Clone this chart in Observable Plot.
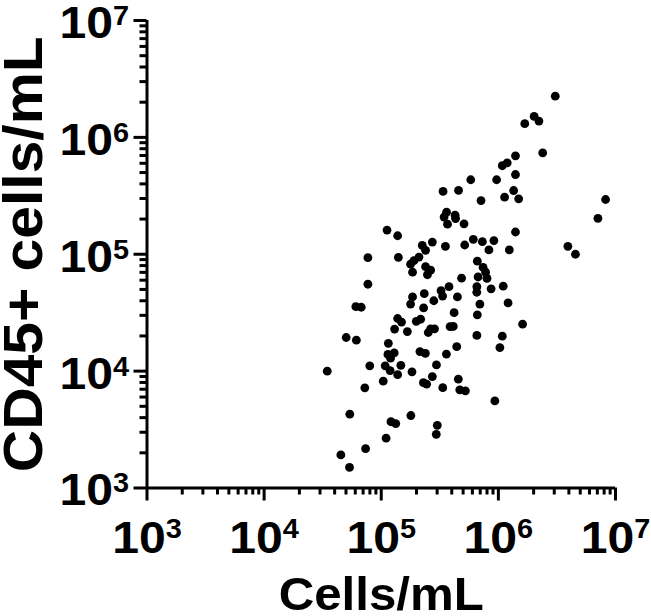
<!DOCTYPE html>
<html>
<head>
<meta charset="utf-8">
<script src="https://cdn.jsdelivr.net/npm/d3@7"></script>
<script src="https://cdn.jsdelivr.net/npm/@observablehq/plot@0.6"></script>
<style>
  html, body { margin: 0; padding: 0; background: white; }
</style>
</head>
<body>
<div id="chart"></div>
<script>
const xTitle = "Cells/mL";
const yTitle = "CD45+ cells/mL";
const majorTicks = [1e3, 1e4, 1e5, 1e6, 1e7];
const minorTicks = [2,3,4,5,6,7,8,9].flatMap(m => [1e3, 1e4, 1e5, 1e6].map(p => m * p));

const cells = [
  3.06e6, 2.02e6, 2.22e6, 1.68e6, 2.39e6, 1.40e6, 1.19e6, 1.08e6, 1.40e6, 5.81e5,
  9.66e5, 3.37e5, 4.57e5, 1.35e6, 1.13e6, 1.49e6, 7.11e5, 8.23e6, 7.08e6, 3.61e5,
  3.44e5, 4.27e5, 4.31e5, 3.68e5, 5.09e5, 1.12e5, 1.38e5, 1.40e6, 2.24e5, 2.73e5,
  2.39e5, 3.53e5, 5.16e5, 6.11e5, 7.30e5, 9.16e5, 8.30e5, 1.24e6, 3.92e6, 4.55e6,
  7.69e4, 1.40e5, 6.61e5, 2.10e5, 1.90e5, 1.78e5, 2.39e5, 2.64e5, 1.85e5, 2.48e5,
  7.40e5, 7.78e5, 8.00e5, 6.71e5, 4.85e5, 7.69e4, 6.07e4, 6.75e4, 5.02e4, 6.13e4,
  3.46e4, 7.98e4, 7.24e4, 5.39e4, 4.52e4, 5.36e4, 7.35e4, 1.10e5, 1.21e5, 1.33e5,
  1.79e5, 3.01e5, 2.95e5, 9.33e5, 1.04e5, 1.08e5, 1.19e5, 1.38e5, 1.47e5, 1.15e5,
  1.14e5, 1.29e5, 1.20e5, 1.83e5, 2.29e5, 2.44e5, 2.73e5, 2.96e5, 3.35e5, 2.14e5,
  2.38e5, 3.60e5, 4.41e5, 4.55e5, 4.68e5, 5.23e5, 1.30e5, 1.67e5, 1.38e5, 1.49e5,
  1.99e5, 2.17e5, 2.52e5, 2.64e5, 2.85e5, 3.87e5, 4.12e5, 4.19e5, 2.30e5, 1.78e5,
  1.85e5, 2.33e5, 2.81e5, 3.24e5, 3.34e5, 3.79e5, 4.47e5, 6.55e5, 6.54e5, 8.67e5,
  1.10e6, 6.95e5, 1.21e6, 6.61e5, 6.55e5, 1.08e6, 1.03e6, 1.61e6
];

const cd45 = [
  2.25e6, 1.51e6, 1.38e6, 1.31e6, 7.38e5, 6.95e5, 6.06e5, 5.72e5, 4.81e5, 4.34e5,
  4.34e5, 3.45e5, 3.52e5, 3.51e5, 3.08e5, 2.98e5, 2.88e5, 2.94e5, 2.03e5, 2.29e5,
  2.08e5, 2.16e5, 2.02e5, 1.81e5, 1.82e5, 1.61e5, 1.44e5, 1.55e5, 1.19e5, 1.27e5,
  1.08e5, 1.17e5, 1.20e5, 1.34e5, 1.28e5, 1.31e5, 1.09e5, 1.09e5, 1.17e5, 1.00e5,
  9.35e4, 9.40e4, 8.73e4, 9.45e4, 8.81e4, 8.22e4, 7.83e4, 7.31e4, 7.03e4, 6.68e4,
  7.72e4, 7.03e4, 6.21e4, 6.39e4, 6.24e4, 5.54e4, 3.56e4, 3.52e4, 1.94e4, 1.84e4,
  1.00e4, 1.11e4, 7.19e3, 4.28e3, 1.92e3, 1.50e3, 2.17e3, 2.67e3, 3.69e3, 3.56e3,
  4.17e3, 3.44e3, 2.88e3, 5.56e3, 8.21e3, 1.11e4, 1.01e4, 9.33e3, 1.12e4, 1.73e4,
  1.39e4, 1.43e4, 1.29e4, 9.86e3, 7.97e3, 7.74e3, 8.99e3, 1.13e4, 7.22e3, 1.47e4,
  1.42e4, 1.40e4, 1.62e4, 8.54e3, 6.92e3, 6.78e3, 2.29e4, 2.18e4, 2.82e4, 2.63e4,
  2.67e4, 2.78e4, 2.14e4, 2.30e4, 2.30e4, 2.40e4, 2.41e4, 3.16e4, 3.47e4, 3.75e4,
  4.31e4, 4.60e4, 4.00e4, 4.88e4, 4.39e4, 5.28e4, 4.31e4, 5.28e4, 4.73e4, 5.06e4,
  5.33e4, 3.75e4, 3.83e4, 3.03e4, 2.02e4, 1.99e4, 1.59e4, 2.52e4
];

const idx = d3.range(Math.min(cells.length, cd45.length));
const fmt = d => "10^" + Math.round(Math.log10(d));
const FONT = "'Liberation Sans', Arial, Helvetica, sans-serif";

const chart = Plot.plot({
  width: 651,
  height: 616,
  marginLeft: 146.5,
  marginRight: 36,
  marginTop: 20,
  marginBottom: 128.5,
  x: {type: "log", domain: [1e3, 1e7], label: null},
  y: {type: "log", domain: [1e3, 1e7], label: null},
  style: {fontFamily: FONT, fontWeight: "bold", color: "black", background: "white", overflow: "visible"},
  marks: [
    Plot.axisX(minorTicks, {tickSize: 7, strokeWidth: 3, tickFormat: () => "", label: null}),
    Plot.axisX(majorTicks, {tickSize: 13, strokeWidth: 3, tickPadding: 20, fontSize: 45, fontWeight: "bold", tickFormat: fmt, label: null}),
    Plot.axisY(minorTicks, {tickSize: 7, strokeWidth: 3, tickFormat: () => "", label: null}),
    Plot.axisY(majorTicks, {tickSize: 13, strokeWidth: 3, tickPadding: 5, fontSize: 45, fontWeight: "bold", tickFormat: fmt, label: null}),
    Plot.ruleY([1e3], {strokeWidth: 3}),
    Plot.ruleX([1e3], {strokeWidth: 3}),
    Plot.dot(idx, {x: i => cells[i], y: i => cd45[i], r: 4.4, fill: "black"}),
    Plot.text([xTitle], {frameAnchor: "bottom", lineAnchor: "bottom", textAnchor: "middle", dy: 122, fontSize: 47, fontWeight: "bold", text: d => d}),
    Plot.text([yTitle], {frameAnchor: "left", lineAnchor: "middle", textAnchor: "middle", dx: -122.5, rotate: -90, fontSize: 56, fontWeight: "bold", text: d => d})
  ]
});

document.getElementById("chart").appendChild(chart);

// superscript exponents in tick labels, slightly widened like the reference
function sup(selector, baseDy, supDy) {
  d3.select(chart).selectAll(selector).each(function () {
    const t = this.textContent;
    if (!t.includes("^")) return;
    const [base, exp] = t.split("^");
    const sel = d3.select(this);
    sel.text(null);
    sel.append("tspan").attr("dy", baseDy).text(base);
    sel.append("tspan").attr("dy", supDy).attr("font-size", 27).text(exp);
    const tr = sel.attr("transform") || "";
    sel.attr("transform", tr + " scale(1.07,1)");
  });
}
sup('g[aria-label="x-axis tick label"] text', 0, -15);
sup('g[aria-label="y-axis tick label"] text', 3, -13);

// stretch titles to match the reference width
d3.select(chart).selectAll("text").each(function () {
  const t = this.textContent;
  if (t === xTitle) d3.select(this).attr("textLength", 205).attr("lengthAdjust", "spacingAndGlyphs");
  if (t === yTitle) d3.select(this).attr("textLength", 436).attr("lengthAdjust", "spacingAndGlyphs");
});
</script>
</body>
</html>
